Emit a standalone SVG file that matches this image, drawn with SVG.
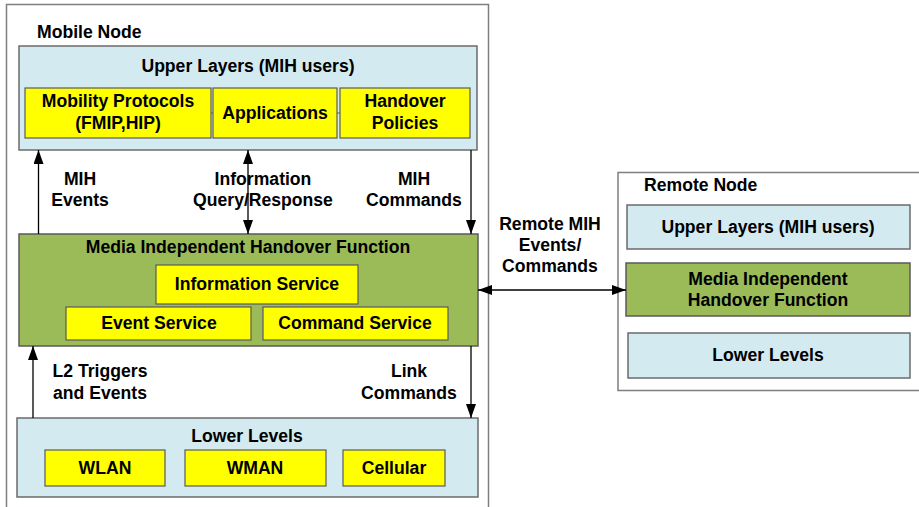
<svg xmlns="http://www.w3.org/2000/svg" width="919" height="507" viewBox="0 0 919 507">
<style>
text{font-family:"Liberation Sans",Arial,sans-serif;font-weight:bold;font-size:17.6px;fill:#000;text-anchor:middle}
.l{text-anchor:start}
.frame{fill:#fff;stroke:#7f7f7f;stroke-width:1.5}
.blue{fill:#d3eaf0;stroke:#6b6b6b;stroke-width:1.5}
.green{fill:#9bbb59;stroke:#5a5a5a;stroke-width:1.5}
.yel{fill:#ffff00;stroke:#5a5a5a;stroke-width:1.2}
.conn line,.conn path{stroke:#000;stroke-width:1.3;fill:none}
</style>
<defs>
<marker id="ah" viewBox="0 0 14 10" refX="14" refY="5" markerWidth="14" markerHeight="10" markerUnits="userSpaceOnUse" orient="auto-start-reverse">
<path d="M0,0 L14,5 L0,10 Z" fill="#000"/>
</marker>
</defs>
<rect width="919" height="507" fill="#fff"/>
<g id="mobile-node">
<rect class="frame" x="6.5" y="4.5" width="482" height="520"/>
<text class="l" x="37" y="38">Mobile Node</text>
</g>
<g id="upper-layers">
<rect class="blue" x="19" y="46" width="458" height="104"/>
<text x="248" y="72">Upper Layers (MIH users)</text>
<line x1="211" y1="113" x2="213" y2="113" stroke="#5a5a5a"/>
<line x1="337" y1="113" x2="340" y2="113" stroke="#5a5a5a"/>
</g>
<g id="mobility-protocols">
<rect class="yel" x="25" y="88" width="186" height="50"/>
<text x="118" y="107">Mobility Protocols</text>
<text x="118" y="129">(FMIP,HIP)</text>
</g>
<g id="applications">
<rect class="yel" x="213" y="88" width="124" height="50"/>
<text x="275" y="119">Applications</text>
</g>
<g id="handover-policies">
<rect class="yel" x="340" y="88" width="130" height="50"/>
<text x="405" y="107">Handover</text>
<text x="405" y="129">Policies</text>
</g>
<g id="mihf">
<rect class="green" x="19" y="234" width="459" height="112"/>
<text x="248" y="253">Media Independent Handover Function</text>
</g>
<g id="information-service">
<rect class="yel" x="156" y="265" width="202" height="39"/>
<text x="257" y="290">Information Service</text>
</g>
<g id="event-service">
<rect class="yel" x="66" y="307" width="185" height="33"/>
<text x="159" y="329">Event Service</text>
</g>
<g id="command-service">
<rect class="yel" x="263" y="307" width="185" height="33"/>
<text x="355" y="329">Command Service</text>
</g>
<g id="lower-levels">
<rect class="blue" x="17" y="418" width="461" height="79"/>
<text x="247" y="442">Lower Levels</text>
</g>
<g id="wlan">
<rect class="yel" x="45" y="450" width="120" height="36"/>
<text x="105" y="474">WLAN</text>
</g>
<g id="wman">
<rect class="yel" x="185" y="450" width="141" height="36"/>
<text x="255" y="474">WMAN</text>
</g>
<g id="cellular">
<rect class="yel" x="343" y="450" width="102" height="36"/>
<text x="394" y="474">Cellular</text>
</g>
<g id="remote-node">
<rect class="frame" x="618" y="172.5" width="320" height="218"/>
<text class="l" x="644" y="191">Remote Node</text>
</g>
<g id="remote-upper">
<rect class="blue" x="627" y="205" width="283" height="44"/>
<text x="768" y="233">Upper Layers (MIH users)</text>
</g>
<g id="remote-mihf">
<rect class="green" x="626" y="263" width="284" height="53"/>
<text x="768" y="285">Media Independent</text>
<text x="768" y="306">Handover Function</text>
</g>
<g id="remote-lower">
<rect class="blue" x="628" y="333" width="282" height="45"/>
<text x="768" y="361">Lower Levels</text>
</g>
<g class="conn" id="connectors">
<line x1="38.5" y1="234" x2="38.5" y2="150" marker-end="url(#ah)"/>
<line x1="248" y1="150" x2="248" y2="234" marker-start="url(#ah)" marker-end="url(#ah)"/>
<line x1="471" y1="150" x2="471" y2="234" marker-end="url(#ah)"/>
<line x1="33" y1="418" x2="33" y2="346" marker-end="url(#ah)"/>
<line x1="471" y1="346" x2="471" y2="418" marker-end="url(#ah)"/>
<line x1="478" y1="290" x2="626" y2="290" marker-start="url(#ah)" marker-end="url(#ah)"/>
</g>
<g id="labels">
<text x="80" y="185">MIH</text>
<text x="80" y="206">Events</text>
<text x="263" y="185">Information</text>
<text x="263" y="206">Query/Response</text>
<text x="414" y="185">MIH</text>
<text x="414" y="206">Commands</text>
<text x="100" y="377">L2 Triggers</text>
<text x="100" y="399">and Events</text>
<text x="409" y="377">Link</text>
<text x="409" y="399">Commands</text>
<text x="550" y="230">Remote MIH</text>
<text x="550" y="251">Events/</text>
<text x="550" y="272">Commands</text>
</g>
</svg>
